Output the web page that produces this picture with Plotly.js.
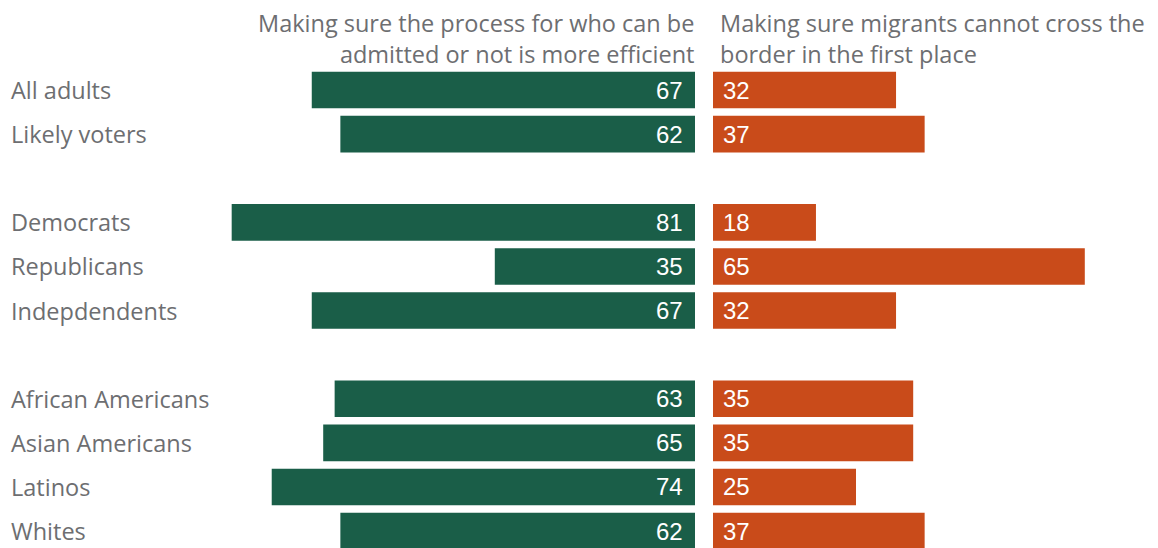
<!DOCTYPE html>
<html><head><meta charset="utf-8">
<script src="https://cdn.plot.ly/plotly-3.0.1.min.js"></script>
<style>html,body{margin:0;padding:0;background:#fff}</style>
</head><body><div id="chart" style="width:1158px;height:548px"></div>
<script>
const categories = ["All adults","Likely voters"," ","Democrats","Republicans","Indepdendents","  ","African Americans","Asian Americans","Latinos","Whites"];
const efficient = [67,62,null,81,35,67,null,63,65,74,62];
const border = [32,37,null,18,65,32,null,35,35,25,37];
const leftHeader = ["Making sure the process for who can be","admitted or not is more efficient"];
const rightHeader = ["Making sure migrants cannot cross the","border in the first place"];

const W = 1158, H = 548;
const pxPerUnit = 5.72;
const leftEnd = 695, rightStart = 713;
const green = "#1a5e48", orange = "#c94b1a", gray = "#6d6e71";
const labelFont = "'Open Sans', Lato, sans-serif";
const numFont = "'Liberation Sans', Arial, sans-serif";
const marginTop = 68;
const plotH = H - marginTop;
const rowPx = 44.1;
const pyToPaper = py => (H - py) / plotH;

const traces = [
  {type:"bar", orientation:"h", y:categories, x:efficient, xaxis:"x", yaxis:"y",
   marker:{color:green}, width:0.83, hoverinfo:"skip"},
  {type:"bar", orientation:"h", y:categories, x:border, xaxis:"x2", yaxis:"y",
   marker:{color:orange}, width:0.83, hoverinfo:"skip"}
];

const annotations = categories.filter(c=>c.trim()!=="").map(c=>({
  text:c, xref:"paper", yref:"y", x:9/W, y:c, xanchor:"left", yanchor:"middle",
  showarrow:false, font:{family:labelFont, size:23.5, color:gray}
}));
categories.forEach((c,i)=>{
  if (efficient[i]!=null) annotations.push({text:String(efficient[i]), xref:"x", yref:"y", x:0, y:c,
    xanchor:"right", yanchor:"middle", xshift:-10, showarrow:false, font:{family:numFont, size:24, color:"#fff"}});
  if (border[i]!=null) annotations.push({text:String(border[i]), xref:"x2", yref:"y", x:0, y:c,
    xanchor:"left", yanchor:"middle", xshift:8, showarrow:false, font:{family:numFont, size:24, color:"#fff"}});
});
annotations.push({text:leftHeader.join("<br>"), xref:"paper", yref:"paper", x:(leftEnd+1)/W, xanchor:"right", align:"right",
  y:pyToPaper(38), yanchor:"middle", showarrow:false, font:{family:labelFont, size:23.5, color:gray}});
annotations.push({text:rightHeader.join("<br>"), xref:"paper", yref:"paper", x:718/W, xanchor:"left", align:"left",
  y:pyToPaper(38), yanchor:"middle", showarrow:false, font:{family:labelFont, size:23.5, color:gray}});

const layout = {
  width:W, height:H, margin:{l:0,r:0,t:marginTop,b:0}, showlegend:false,
  paper_bgcolor:"#fff", plot_bgcolor:"#fff", barmode:"overlay",
  xaxis:{domain:[0,leftEnd/W], range:[leftEnd/pxPerUnit,0], visible:false, fixedrange:true},
  xaxis2:{domain:[rightStart/W,1], range:[0,(W-rightStart)/pxPerUnit], visible:false, fixedrange:true},
  yaxis:{type:"category", categoryorder:"array", categoryarray:categories,
    range:[-0.5+plotH/rowPx, -0.5], visible:false, fixedrange:true},
  annotations:annotations
};
Plotly.newPlot("chart", traces, layout, {displayModeBar:false, staticPlot:true});
</script></body></html>
